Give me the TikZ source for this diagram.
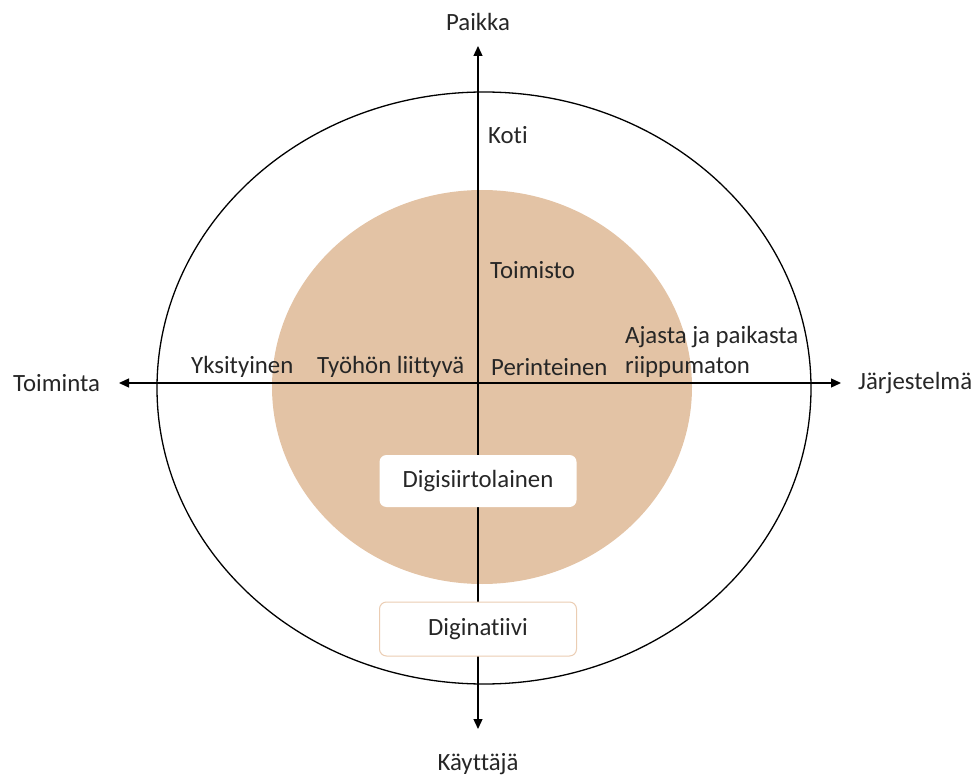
\documentclass[tikz,border=0pt]{standalone}
\usepackage{fontspec}
\setmainfont{Carlito}[Ligatures=NoCommon]
\usetikzlibrary{arrows.meta}
\definecolor{tanfill}{HTML}{E3C3A5}
\definecolor{tanedge}{HTML}{EBCDB3}
\definecolor{txt}{HTML}{262626}
\begin{document}
\begin{tikzpicture}[x=1pt,y=-1pt,
  lbl/.style={font=\fontsize{24.8}{30}\selectfont, text=txt, inner sep=0pt},
  axisline/.style={line width=1.3pt, {Triangle[length=10pt,width=9pt]}-{Triangle[length=10pt,width=9pt]}},
  boxnode/.style={rounded corners=7pt, fill=white, minimum width=197pt, minimum height=52pt, font=\fontsize{24.8}{30}\selectfont, text=txt, inner sep=0pt}]
\useasboundingbox (0,0) rectangle (975,778);
\fill[tanfill] (482,387) ellipse [x radius=210, y radius=197];
\draw[line width=1.3pt] (484,388) ellipse [x radius=327, y radius=296];
\coordinate (top) at (478,46);
\coordinate (bot) at (478,729);
\coordinate (lft) at (119,383);
\coordinate (rgt) at (841,383);
\draw[axisline] (bot) -- (top);
\draw[axisline] (lft) -- (rgt);
\node[boxnode] (ds) at (478,481) {Digisiirtolainen};
\node[boxnode, draw=tanedge, line width=1pt, minimum height=54pt] (dn) at (478,629) {Diginatiivi};
\node[lbl] (paikka) at (478,22) {Paikka};
\node[lbl] (kayttaja) at (478,764) {Käyttäjä};
\node[lbl, anchor=west] (toiminta) at (13,383) {Toiminta};
\node[lbl, anchor=west] (jarj) at (858,383) {Järjestelmä};
\node[lbl, anchor=west] (koti) at (488,135) {Koti};
\node[lbl, anchor=west] (toimisto) at (490,270) {Toimisto};
\node[lbl, anchor=west] (yks) at (191,367) {Yksityinen};
\node[lbl, anchor=west] (tyo) at (317,367) {Työhön liittyvä};
\node[lbl, anchor=west] (per) at (491,367) {Perinteinen};
\node[lbl, anchor=west, align=left] (ajasta) at (625,352) {Ajasta ja paikasta\\riippumaton};
\end{tikzpicture}
\end{document}
